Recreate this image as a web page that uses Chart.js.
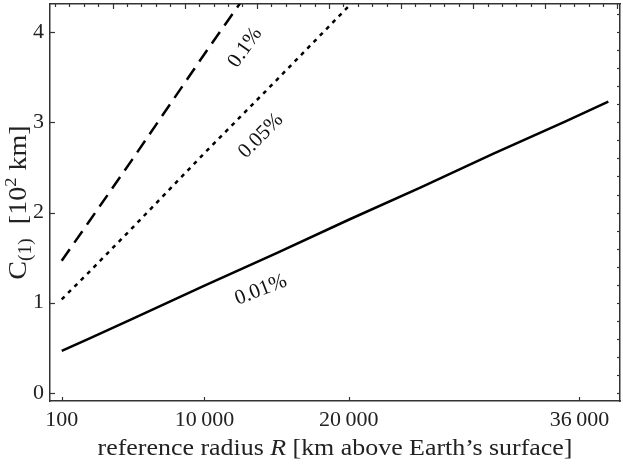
<!DOCTYPE html>
<html>
<head>
<meta charset="utf-8">
<script src="https://cdn.jsdelivr.net/npm/chart.js@4.4.1/dist/chart.umd.min.js"></script>
<style>
html,body{margin:0;padding:0;background:#fff;}
canvas{display:block;}
</style>
</head>
<body>
<canvas id="c" width="623" height="465"></canvas>
<script>
// ---- data ----
const radius001 = [100, 2000, 5000, 10000, 15000, 20000, 25000, 30000, 35000, 38000];
const c001      = [0.464, 0.60, 0.82, 1.19, 1.55, 1.92, 2.28, 2.65, 3.01, 3.23];
const radius005 = [100, 2000, 5000, 10000, 15000, 20000, 22000];
const c005      = [1.037, 1.34, 1.83, 2.66, 3.47, 4.29, 4.62];
const radius01  = [100, 2000, 5000, 10000, 15000];
const c01       = [1.466, 1.90, 2.59, 3.76, 4.90];
const seriesNames = ['0.01%', '0.05%', '0.1%'];
const xTickValues = [100, 10000, 20000, 36000];
const xTickLabels = ['100', '10\u2009000', '20\u2009000', '36\u2009000'];
const yTickValues = [0, 1, 2, 3, 4];
const yTickLabels = ['0', '1', '2', '3', '4'];
const earthRadius = 6371;

const FONT = '"Liberation Serif", "Times New Roman", serif';
const AXIS = '#333333';
const X_MIN = -712, X_MAX = 38810, Y_MIN = -0.091, Y_MAX = 4.314;

const toPts = (xs, ys) => xs.map((x, i) => ({x: x, y: ys[i]}));

// inward tick marks on all four sides
const inTicks = {
  id: 'inTicks',
  afterDatasetsDraw(chart) {
    const {ctx, chartArea: a, scales} = chart;
    ctx.save();
    ctx.strokeStyle = AXIS;
    ctx.lineWidth = 1.2;
    const seg = (x1, y1, x2, y2) => { ctx.beginPath(); ctx.moveTo(x1, y1); ctx.lineTo(x2, y2); ctx.stroke(); };
    scales.x.ticks.forEach(t => { const p = Math.round(scales.x.getPixelForValue(t.value)) + 0.5; seg(p, a.bottom, p, a.bottom - 4); });
    scales.x2.ticks.forEach(t => { const p = Math.round(scales.x2.getPixelForValue(t.value)) + 0.5; const L = (t.value % 5000 === 0) ? 5 : 3; seg(p, a.top, p, a.top + L); });
    scales.y.ticks.forEach(t => { const p = Math.round(scales.y.getPixelForValue(t.value)) + 0.5; seg(a.left, p, a.left + 5, p); });
    scales.y2.ticks.forEach(t => { const p = Math.round(scales.y2.getPixelForValue(t.value)) + 0.5; seg(a.right, p, a.right - 3, p); });
    ctx.restore();
  }
};

// curve labels, rotated along each curve
const curveLabels = {
  id: 'curveLabels',
  afterDatasetsDraw(chart, args, opts) {
    const {ctx, scales} = chart;
    ctx.save();
    ctx.fillStyle = '#111';
    ctx.font = '21px ' + FONT;
    ctx.textAlign = 'center';
    ctx.textBaseline = 'middle';
    opts.items.forEach(it => {
      const ds = chart.data.datasets[it.dataset].data;
      let k = 0;
      while (k < ds.length - 2 && ds[k + 1].x < it.x) k++;
      const dx = scales.x.getPixelForValue(ds[k + 1].x) - scales.x.getPixelForValue(ds[k].x);
      const dy = scales.y.getPixelForValue(ds[k + 1].y) - scales.y.getPixelForValue(ds[k].y);
      const ang = Math.atan2(dy, dx) + (it.tweak || 0);
      ctx.save();
      ctx.translate(scales.x.getPixelForValue(it.x), scales.y.getPixelForValue(it.y));
      ctx.rotate(ang);
      ctx.fillText(chart.data.datasets[it.dataset].label, 0, 0);
      ctx.restore();
    });
    ctx.restore();
  }
};

// axis titles with sub/superscripts and italics
const axisTitles = {
  id: 'axisTitles',
  afterDraw(chart) {
    const {ctx, chartArea: a} = chart;
    const S = 1.08;
    ctx.save();
    ctx.fillStyle = '#222';
    ctx.textBaseline = 'alphabetic';
    ctx.textAlign = 'left';
    // x title
    const xParts = [
      {t: 'reference radius ', f: '24px ' + FONT},
      {t: 'R', f: 'italic 24px ' + FONT},
      {t: ' [km above Earth\u2019s surface]', f: '24px ' + FONT}
    ];
    let w = 0;
    xParts.forEach(p => { ctx.font = p.f; p.w = ctx.measureText(p.t).width; w += p.w; });
    ctx.save();
    ctx.translate((a.left + a.right) / 2, 455);
    ctx.scale(S, 1);
    let x = -w / 2;
    xParts.forEach(p => { ctx.font = p.f; ctx.fillText(p.t, x, 0); x += p.w; });
    ctx.restore();
    // y title
    const yParts = [
      {t: 'C', f: '26px ' + FONT, dy: 0},
      {t: '(1)', f: '18px ' + FONT, dy: 5},
      {t: '\u2002[10', f: '26px ' + FONT, dy: 0},
      {t: '2', f: '17px ' + FONT, dy: -10},
      {t: ' km]', f: '26px ' + FONT, dy: 0}
    ];
    w = 0;
    yParts.forEach(p => { ctx.font = p.f; p.w = ctx.measureText(p.t).width; w += p.w; });
    ctx.translate(26, (a.top + a.bottom) / 2);
    ctx.rotate(-Math.PI / 2);
    ctx.scale(S, 1);
    x = -w / 2;
    yParts.forEach(p => { ctx.font = p.f; ctx.fillText(p.t, x, p.dy); x += p.w; });
    ctx.restore();
  }
};

const commonLine = {fill: false, pointRadius: 0, tension: 0, borderColor: '#000', borderWidth: 2.5, clip: 0, borderCapStyle: 'butt'};

new Chart(document.getElementById('c'), {
  type: 'line',
  data: {
    datasets: [
      Object.assign({label: seriesNames[0], data: toPts(radius001, c001)}, commonLine),
      Object.assign({label: seriesNames[1], data: toPts(radius005, c005), borderDash: [4, 5]}, commonLine),
      Object.assign({label: seriesNames[2], data: toPts(radius01, c01), borderDash: [14, 8]}, commonLine)
    ]
  },
  options: {
    responsive: false,
    animation: false,
    devicePixelRatio: 1,
    layout: {padding: 0},
    plugins: {
      legend: {display: false},
      tooltip: {enabled: false},
      curveLabels: {items: [
        {dataset: 0, x: 13910, y: 1.14, tweak: 0.05},
        {dataset: 1, x: 13910, y: 2.85},
        {dataset: 2, x: 12820, y: 3.83}
      ]}
    },
    scales: {
      x: {
        type: 'linear', position: 'bottom', min: X_MIN, max: X_MAX,
        afterBuildTicks: s => { s.ticks = xTickValues.map(v => ({value: v})); },
        afterFit: s => { s.height = 64; s.paddingLeft = 0; s.paddingRight = 0; },
        ticks: {
          autoSkip: false, maxRotation: 0, padding: 6, color: '#222',
          font: {family: FONT, size: 22},
          callback: (v) => { const i = xTickValues.indexOf(v); return i >= 0 ? xTickLabels[i] : ''; }
        },
        grid: {display: false, drawTicks: false},
        border: {display: true, color: AXIS, width: 1.5}
      },
      x2: {
        type: 'linear', position: 'top', min: X_MIN + earthRadius, max: X_MAX + earthRadius,
        afterBuildTicks: s => { const t = []; for (let v = 6000; v <= 45000; v += 1000) t.push({value: v}); s.ticks = t; },
        afterFit: s => { s.height = 4; s.paddingLeft = 0; s.paddingRight = 0; },
        ticks: {display: false},
        grid: {display: false, drawTicks: false},
        border: {display: true, color: AXIS, width: 1.5}
      },
      y: {
        type: 'linear', position: 'left', min: Y_MIN, max: Y_MAX,
        afterBuildTicks: s => { s.ticks = yTickValues.map(v => ({value: v})); },
        afterFit: s => { s.width = 50; s.paddingTop = 0; s.paddingBottom = 0; },
        ticks: {
          padding: 6, color: '#222', font: {family: FONT, size: 22},
          callback: (v) => { const i = yTickValues.indexOf(v); return i >= 0 ? yTickLabels[i] : ''; }
        },
        grid: {display: false, drawTicks: false},
        border: {display: true, color: AXIS, width: 1.5}
      },
      y2: {
        type: 'linear', position: 'right', min: Y_MIN, max: Y_MAX,
        afterBuildTicks: s => { const t = []; for (let i = 0; i <= 21; i++) t.push({value: i * 0.2}); s.ticks = t; },
        afterFit: s => { s.width = 3; s.paddingTop = 0; s.paddingBottom = 0; },
        ticks: {display: false},
        grid: {display: false, drawTicks: false},
        border: {display: true, color: AXIS, width: 1.5}
      }
    }
  },
  plugins: [inTicks, curveLabels, axisTitles]
});
</script>
</body>
</html>
